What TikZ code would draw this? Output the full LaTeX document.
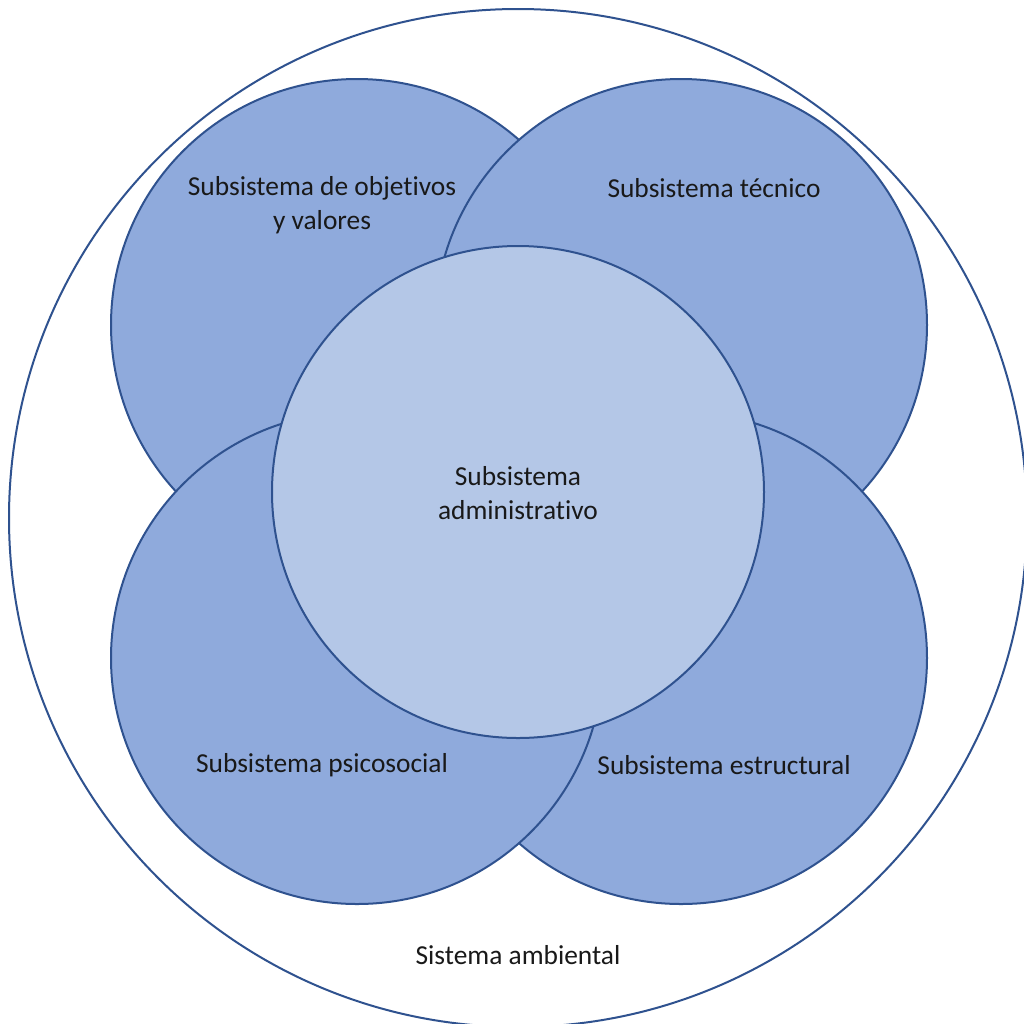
\documentclass[tikz,border=0pt]{standalone}
\usepackage{fontspec}
\setmainfont[Ligatures=NoCommon]{Carlito}
\definecolor{subfill}{HTML}{8FAADC}
\definecolor{admfill}{HTML}{B4C7E7}
\definecolor{subline}{HTML}{2F528F}
\begin{document}
\begin{tikzpicture}
[   x=0.5pt,y=-0.5pt,
    snode/.style={draw=subline,line width=1pt,fill=#1,circle,inner sep=0pt,minimum size=246pt},
    lbl/.style={align=center,font=\fontsize{13.7}{17}\selectfont,text=black!90},
]
    \useasboundingbox (0,0) rectangle (1024,1024);
    \node[snode=white,minimum size=509pt] (amb) at (518,518) {};
    \foreach \n/\x/\y in {obj/357/325,tec/681/325,est/681/658,psi/357/658}
    {   \node[snode=subfill] (\n) at (\x,\y) {};
    }
    \node[snode=admfill] (adm) at (518,492) {};
    \node[lbl] (obj-t) at (322,205) {Subsistema de objetivos\\y valores};
    \node[lbl] (tec-t) at (714,188) {Subsistema técnico};
    \node[lbl] (adm-t) at (518,493) {Subsistema\\administrativo};
    \node[lbl] (psi-t) at (322,765) {Subsistema psicosocial};
    \node[lbl] (est-t) at (724,765) {Subsistema estructural};
    \node[lbl] (amb-t) at (518,955) {Sistema ambiental};
\end{tikzpicture}
\end{document}
